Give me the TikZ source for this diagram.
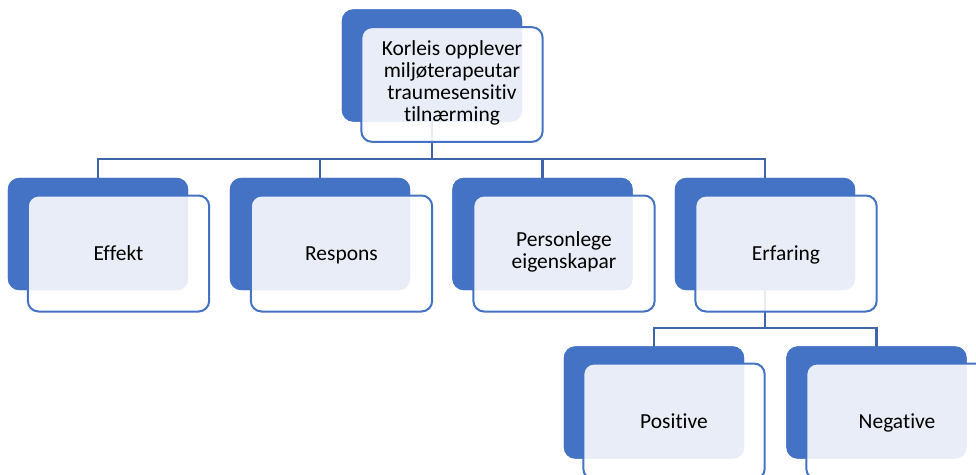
\documentclass[tikz,border=0pt]{standalone}
\usepackage{fontspec}
\setmainfont{Carlito}[Ligatures={NoCommon}]
\definecolor{accent}{RGB}{68,114,196}
\definecolor{linec}{RGB}{62,100,172}
\newcommand{\mystrut}{\rule[-4.9pt]{0pt}{20.9pt}}
\tikzset{
  backbox/.style={draw=accent, fill=accent, line width=1.2pt, rounded corners=8pt,
    minimum width=134pt, minimum height=83pt, inner sep=0pt, outer sep=0pt},
  frontbox/.style={draw=accent, fill=white, fill opacity=0.88, text opacity=1, line width=1.5pt,
    rounded corners=8pt, minimum width=136pt, minimum height=87pt, inner sep=0pt, outer sep=0pt,
    align=center, font=\fontsize{16.1}{16.4}\selectfont, text=black,
    execute at begin node={\mystrut}, execute at end node={\mystrut}},
  conn/.style={draw=linec, line width=2pt}
}
\begin{document}
\begin{tikzpicture}[x=0.75pt, y=-0.75pt]
\useasboundingbox (0,0) rectangle (976,475);
\clip (0,0) rectangle (976,475);
% back boxes
\node[backbox] (bt) at (432,65.5) {};
\node[backbox] (b1) at (98,234) {};
\node[backbox] (b2) at (320,234) {};
\node[backbox] (b3) at (542.5,234) {};
\node[backbox] (b4) at (765,234) {};
\node[backbox] (b5) at (654,402.5) {};
\node[backbox] (b6) at (876.5,402.5) {};
% junctions
\coordinate (j1) at (432,159);
\coordinate (j2) at (765,328);
% connectors
\draw[conn] (bt.south) -- (j1);
\draw[conn] (b1.north) -- (b1.north |- j1) -- (b4.north |- j1) -- (b4.north);
\draw[conn] (b2.north) -- (b2.north |- j1);
\draw[conn] (b3.north) -- (b3.north |- j1);
\draw[conn] (b4.south) -- (j2);
\draw[conn] (b5.north) -- (b5.north |- j2) -- (b6.north |- j2) -- (b6.north);
% redraw back boxes over connectors
\node[backbox] at (bt) {};
\node[backbox] at (b1) {};
\node[backbox] at (b2) {};
\node[backbox] at (b3) {};
\node[backbox] at (b4) {};
\node[backbox] at (b5) {};
\node[backbox] at (b6) {};
% front boxes
\node[frontbox, minimum height=86pt] (ft) at (452,84.5) {Korleis opplever\\miljøterapeutar\\traumesensitiv\\tilnærming};
\node[frontbox] (f1) at (118.5,253.5) {Effekt};
\node[frontbox] (f2) at (341.5,253.5) {Respons};
\node[frontbox] (f3) at (564,253.5) {Personlege\\eigenskapar};
\node[frontbox] (f4) at (786,253.5) {Erfaring};
\node[frontbox] (f5) at (674,421.5) {Positive};
\node[frontbox] (f6) at (897,421.5) {Negative};
\end{tikzpicture}
\end{document}
